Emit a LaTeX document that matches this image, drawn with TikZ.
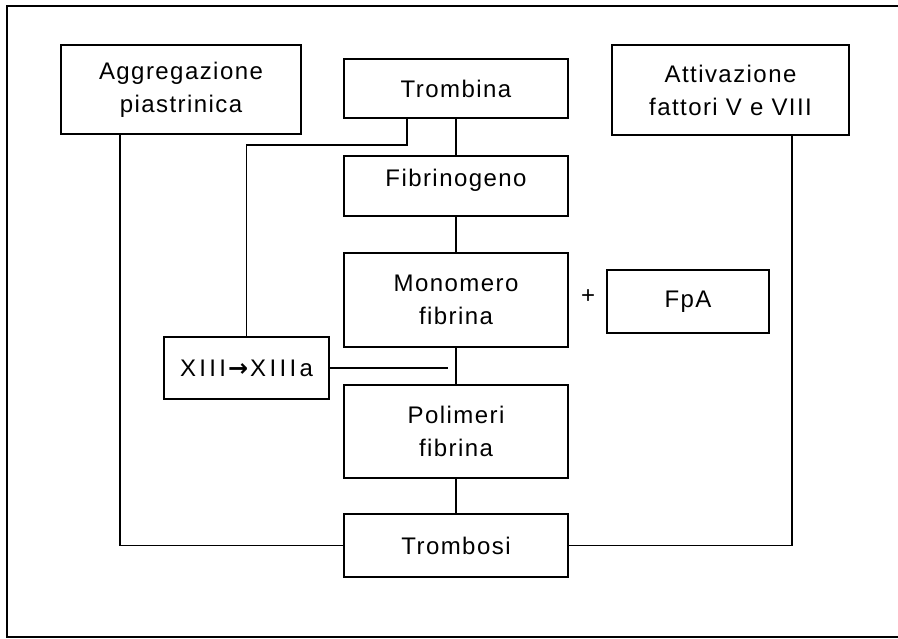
\documentclass[tikz,border=0pt]{standalone}
\usepackage{fontspec}
\setmainfont{Liberation Sans}[LetterSpace=6]
\newfontfamily\widefont{Liberation Sans}[LetterSpace=14]
\newfontfamily\arrowfont{DejaVu Sans Bold}
\usetikzlibrary{positioning}

\begin{document}
\begin{tikzpicture}[x=0.5pt, y=-0.5pt
        , every path/.style={ line width=.6pt }
        , box/.style={ draw, line width=.9pt, inner sep=0pt, align=center,
                       font=\fontsize{12}{16.5}\selectfont }
        ]
        \useasboundingbox (0,0) rectangle (898,638);

        % frame, right side cut off
        \draw[line width=.8pt] (898,6) -- (7,6) -- (7,637) -- (898,637);

        % central chain
        \node[box, minimum width=112pt, minimum height=29.5pt] (trombina) at (456,88.5) {Trombina};
        \node[box, minimum width=112pt, minimum height=30pt, text depth=8pt] (fibrinogeno) at (456,186) {Fibrinogeno};
        \node[box, minimum width=112pt, minimum height=47pt] (monomero) at (456,300) {Monomero\\fibrina};
        \node[box, minimum width=112pt, minimum height=46.5pt] (polimeri) at (456,431.5) {Polimeri\\fibrina};
        \node[box, minimum width=112pt, minimum height=31.5pt] (trombosi) at (456,545.5) {Trombosi};

        % side boxes
        \node[box, minimum width=120pt, minimum height=44.5pt] (aggregazione) at (181,89.5) {Aggregazione\\piastrinica};
        \node[box, minimum width=118.5pt, minimum height=45pt] (attivazione) at (730.5,90) {Attivazione\\fattori V e VIII};
        \node[box, minimum width=81pt, minimum height=31.5pt] (fpa) at (688,301.5) {FpA};
        \node[box, minimum width=82.5pt, minimum height=31pt] (xiii) at (246.5,368)
            {\widefont XIII\kern1pt{\arrowfont\fontsize{12}{12}\selectfont →}\kern1ptXIIIa};
        \node[font=\fontsize{12}{14}\selectfont] (plus) at (588,297) {+};

        \draw (trombina) -- (fibrinogeno) -- (monomero) -- (polimeri) -- (trombosi);

        % thrombin acts on factor XIII
        \draw ([xshift=-24.5pt]trombina.south) -- ++(0,26) -| (xiii.north);
        \path (monomero.south |- xiii.east) ++(-8,0) coordinate (xend);
        \draw (xiii.east) -- (xend);

        % side branches into thrombosis
        \draw ([xshift=-30.5pt]aggregazione.south) |- (trombosi.west);
        \draw ([xshift=30.75pt]attivazione.south) |- (trombosi.east);

    \end{tikzpicture}
\end{document}
